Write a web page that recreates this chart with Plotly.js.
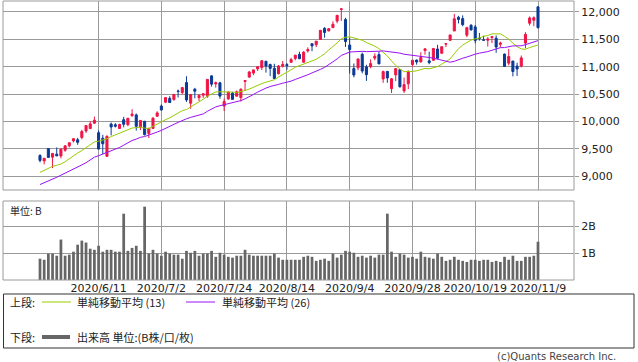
<!DOCTYPE html>
<html><head><meta charset="utf-8">
<script src="https://cdn.plot.ly/plotly-3.0.1.min.js"></script>
<style>html,body{margin:0;padding:0;background:#fff}#chart{width:638px;height:362px}</style>
</head><body><div id="chart"></div>
<script>
const dates = ["2020/5/21","2020/5/22","2020/5/26","2020/5/27","2020/5/28","2020/5/29",
"2020/6/1","2020/6/2","2020/6/3","2020/6/4","2020/6/5","2020/6/8","2020/6/9","2020/6/10","2020/6/11","2020/6/12",
"2020/6/15","2020/6/16","2020/6/17","2020/6/18","2020/6/19","2020/6/22","2020/6/23","2020/6/24","2020/6/25","2020/6/26",
"2020/6/29","2020/6/30","2020/7/1","2020/7/2","2020/7/6","2020/7/7","2020/7/8","2020/7/9","2020/7/10",
"2020/7/13","2020/7/14","2020/7/15","2020/7/16","2020/7/17","2020/7/20","2020/7/21","2020/7/22","2020/7/23","2020/7/24",
"2020/7/27","2020/7/28","2020/7/29","2020/7/30","2020/7/31","2020/8/3","2020/8/4","2020/8/5","2020/8/6","2020/8/7",
"2020/8/10","2020/8/11","2020/8/12","2020/8/13","2020/8/14","2020/8/17","2020/8/18","2020/8/19","2020/8/20","2020/8/21",
"2020/8/24","2020/8/25","2020/8/26","2020/8/27","2020/8/28","2020/8/31","2020/9/1","2020/9/2","2020/9/3","2020/9/4",
"2020/9/8","2020/9/9","2020/9/10","2020/9/11","2020/9/14","2020/9/15","2020/9/16","2020/9/17","2020/9/18",
"2020/9/21","2020/9/22","2020/9/23","2020/9/24","2020/9/25","2020/9/28","2020/9/29","2020/9/30","2020/10/1","2020/10/2",
"2020/10/5","2020/10/6","2020/10/7","2020/10/8","2020/10/9","2020/10/12","2020/10/13","2020/10/14","2020/10/15","2020/10/16",
"2020/10/19","2020/10/20","2020/10/21","2020/10/22","2020/10/23","2020/10/26","2020/10/27","2020/10/28","2020/10/29","2020/10/30",
"2020/11/2","2020/11/3","2020/11/4","2020/11/5","2020/11/6","2020/11/9"];

const openP = [9375,9276,9501,9344,9400,9366,9471,9552,9640,9663,
9704,9823,9867,9966,9792,9691,9359,9950,9937,9869,
10030,9938,10105,10118,9899,10002,9779,9871,10092,10280,
10350,10420,10400,10554,10526,10709,10331,10588,10432,10478,
10460,10832,10683,10705,10280,10410,10515,10460,10433,10730,
10809,10882,10960,10984,11099,11040,10971,10870,11010,11038,
11079,11151,11225,11081,11288,11420,11400,11498,11701,11654,
11715,11834,12047,11861,11396,10965,10978,11226,10995,11000,
11156,11221,10776,10914,10597,10849,10945,10557,10686,11038,
11121,11085,11295,11106,11116,11323,11244,11412,11482,11653,
11903,11879,11576,11758,11727,11518,11488,11483,11533,11520,
11408,11230,11064,11103,11010,11011,11431,11794,11848,12094];

const highP = [9398,9325,9502,9414,9523,9505,9560,9608,9690,9698,
9845,9925,10002,10086,9835,9753,9743,9979,9968,9955,
10082,10059,10222,10143,10020,10006,9875,10074,10185,10310,
10434,10459,10493,10580,10620,10824,10491,10612,10494,10515,
10774,10837,10728,10722,10415,10544,10539,10564,10602,10747,
10923,10945,11002,11121,11101,11053,11053,11031,11103,11066,
11162,11212,11273,11286,11352,11421,11467,11668,11723,11706,
11829,11943,12074,11894,11531,11057,11143,11258,11034,11134,
11244,11276,10927,10919,10791,10974,10951,10801,10929,11118,
11131,11264,11327,11274,11333,11399,11375,11434,11583,11965,
11930,11938,11729,11777,11762,11617,11566,11541,11549,11571,
11458,11240,11325,11103,11071,11204,11631,11920,11920,12108];

const lowP = [9250,9213,9333,9144,9362,9324,9443,9523,9612,9571,
9671,9788,9863,9952,9490,9398,9350,9743,9887,9869,
9891,9911,10082,9831,9841,9741,9695,9866,10088,10194,
10334,10339,10376,10436,10496,10355,10227,10421,10373,10429,
10430,10635,10617,10412,10188,10395,10393,10458,10361,10553,
10794,10845,10921,10939,10891,10826,10778,10859,10985,10943,
11071,11116,11137,11073,11257,11283,11357,11489,11531,11644,
11704,11794,11836,11361,10875,10805,10934,10878,10740,10970,
11116,11049,10704,10705,10519,10735,10616,10519,10589,10999,
11037,11081,11218,11044,11111,11132,11244,11358,11472,11653,
11791,11738,11540,11665,11428,11477,11480,11368,11431,11254,
11355,10996,11025,10822,10830,10985,11335,11753,11741,11697];

const closeP = [9284.88,9324.59,9340.22,9412.36,9368.99,9489.87,9552.05,9608.38,9682.91,9615.81,
9814.08,9924.75,9953.75,10020.35,9492.73,9588.81,9726.02,9895.87,9910.53,9943.05,
9946.12,10056.48,10131.37,9909.17,10017.00,9757.22,9874.15,10058.77,10154.63,10207.63,
10433.65,10343.89,10492.50,10547.75,10617.44,10390.84,10488.58,10550.49,10473.83,10503.19,
10767.09,10680.36,10706.13,10461.42,10363.18,10536.27,10402.09,10542.94,10587.81,10745.27,
10902.80,10941.17,10998.40,11108.07,11010.98,10968.36,10782.82,11012.24,11042.50,11019.30,
11129.73,11210.84,11146.46,11264.95,11311.80,11379.72,11466.47,11665.06,11625.34,11695.63,
11775.46,11939.67,12056.44,11458.10,11313.13,10847.69,11141.56,10919.59,10853.55,11056.65,
11190.32,11050.47,10910.28,10793.28,10778.80,10963.64,10632.99,10672.27,10913.56,11117.53,
11085.25,11167.51,11326.51,11075.02,11332.49,11154.60,11364.60,11420.98,11579.94,11876.26,
11863.90,11768.73,11713.87,11671.56,11478.88,11516.49,11484.69,11506.01,11548.28,11358.94,
11431.35,11004.87,11185.59,10911.59,10957.61,11160.57,11590.78,11890.93,11895.23,11713.78];

// closes before the visible window (2020/4/16 - 2020/5/20), used for the moving averages
const preCloses = [8532.36,8650.14,8560.73,8263.23,8495.38,8494.75,8634.52,8730.16,8607.73,8914.71,
8889.55,8604.95,8710.71,8809.12,8854.39,8979.66,9121.32,9192.34,9002.55,8863.17,
8943.72,9014.56,9234.83,9185.10,9375.78];

// volume, billions
const volumeB = [0.79,0.75,0.98,0.98,0.90,1.50,0.90,0.94,1.05,1.31,
1.46,1.39,1.16,1.12,1.27,1.05,1.12,1.12,1.05,1.05,
2.46,1.08,1.19,1.27,1.08,2.72,0.98,1.12,0.98,0.90,
1.05,0.98,0.94,0.94,0.79,1.08,1.01,1.08,0.90,0.98,
0.98,1.08,0.86,1.01,0.94,0.86,0.83,0.90,0.90,1.12,
0.94,0.90,0.90,0.90,0.90,0.90,0.98,0.83,0.75,0.75,
0.75,0.75,0.75,0.86,0.90,0.86,0.71,0.75,0.79,0.71,
0.98,0.83,0.94,1.08,1.05,1.01,0.86,0.90,0.83,0.90,
0.83,0.94,0.94,2.46,1.05,0.86,0.98,0.94,0.83,0.86,
0.79,1.05,0.86,0.83,0.79,0.98,0.86,0.71,0.75,0.86,
0.75,0.71,0.67,0.75,0.75,0.71,0.75,0.75,0.67,0.71,
0.67,0.86,0.75,0.90,0.71,0.71,0.86,0.86,0.90,1.42];

const tickDates = ["2020/6/11","2020/7/2","2020/7/24","2020/8/14","2020/9/4","2020/9/28","2020/10/19","2020/11/9"];
const priceTicks = [9000,9500,10000,10500,11000,11500,12000];
const volTicks = [1,2];
const volTickText = ["1B","2B"];

const allCloses = preCloses.concat(closeP);
function sma(n){
  return closeP.map((_,i)=>{const k=i+preCloses.length;let s=0;for(let j=k-n+1;j<=k;j++)s+=allCloses[j];return s/n;});
}
const ma13 = sma(13), ma26 = sma(26);

const RED='#f01446', BLUE='#0b3a96', GRID='#9a9a9a', GREEN='#99cc00', PURPLE='#9a10f8';
const FONT='DejaVu Sans', JFONT='Noto Sans CJK JP';

const traces = [
 {type:'candlestick', x:dates, open:openP, high:highP, low:lowP, close:closeP, xaxis:'x', yaxis:'y',
  increasing:{line:{color:RED,width:1},fillcolor:RED},
  decreasing:{line:{color:BLUE,width:1},fillcolor:BLUE},
  whiskerwidth:0, showlegend:false, hoverinfo:'skip'},
 {type:'scatter', mode:'lines', x:dates, y:ma13, line:{color:GREEN,width:1}, xaxis:'x', yaxis:'y', showlegend:false, hoverinfo:'skip'},
 {type:'scatter', mode:'lines', x:dates, y:ma26, line:{color:PURPLE,width:1}, xaxis:'x', yaxis:'y', showlegend:false, hoverinfo:'skip'},
 {type:'bar', x:dates, y:volumeB, marker:{color:'#666666',line:{width:0}}, xaxis:'x', yaxis:'y2', showlegend:false, hoverinfo:'skip'}
];

const L=3, R=64, T=1, B=82, W=638, H=362;
const px=x=>(x-L)/(W-L-R), py=y=>(H-B-y)/(H-T-B);

const shapes = [
 {type:'rect',xref:'x domain',yref:'y domain',x0:0,x1:1,y0:0,y1:1,line:{color:GRID,width:1}},
 {type:'rect',xref:'x domain',yref:'y2 domain',x0:0,x1:1,y0:0,y1:1,line:{color:GRID,width:1}},
 {type:'rect',xref:'paper',yref:'paper',x0:px(3.5),x1:px(634),y0:py(294),y1:py(348),line:{color:'#333',width:1}},
 {type:'line',xref:'paper',yref:'paper',x0:px(42),x1:px(71),y0:py(302),y1:py(302),line:{color:GREEN,width:1}},
 {type:'line',xref:'paper',yref:'paper',x0:px(186),x1:px(215),y0:py(302),y1:py(302),line:{color:PURPLE,width:1}},
 {type:'line',xref:'paper',yref:'paper',x0:px(42),x1:px(70),y0:py(337),y1:py(337),line:{color:'#666',width:4}}
];
const ann=(x,y,t,anchor,size)=>({xref:'paper',yref:'paper',x:px(x),y:py(y),text:t,showarrow:false,xanchor:anchor||'left',yanchor:'middle',font:{family:JFONT,size:size||11,color:'#222'}});
const annotations = [
 ann(8,302,'上段:'), ann(75,302,'単純移動平均 (13)'), ann(220,302,'単純移動平均 (26)'),
 ann(8,337,'下段:'), ann(75,337,'出来高 単位:(B株/口/枚)'),
 ann(8,210,'単位: B','left',10),
 Object.assign(ann(618,356,'(c)Quants Research Inc.','right'),{font:{family:FONT,size:10,color:'#444'}})
];

const layout = {
 width:W, height:H, margin:{l:L,r:R,t:T,b:B,pad:0}, paper_bgcolor:'#fff', plot_bgcolor:'#fff',
 showlegend:false, bargap:0.35, boxgap:0.3,
 xaxis:{type:'category', range:[-8.84,127.6], tickmode:'array', tickvals:tickDates, ticktext:tickDates,
   showgrid:true, gridcolor:GRID, gridwidth:1, zeroline:false, showline:false, ticks:'', anchor:'y2',
   tickfont:{family:FONT,size:11,color:'#222'}, rangeslider:{visible:false}, fixedrange:true},
 yaxis:{domain:[py(190),1], range:[8744,12201], side:'right', tickmode:'array', tickvals:priceTicks,
   tickformat:',d', showgrid:true, gridcolor:GRID, gridwidth:1, zeroline:false, showline:false,
   ticks:'outside', ticklen:4, tickcolor:GRID, tickfont:{family:FONT,size:11,color:'#222'}, anchor:'x', fixedrange:true},
 yaxis2:{domain:[0,py(201)], range:[0,2.93], side:'right', tickmode:'array', tickvals:volTicks, ticktext:volTickText,
   showgrid:true, gridcolor:GRID, gridwidth:1, zeroline:false, showline:false,
   ticks:'outside', ticklen:4, tickcolor:GRID, tickfont:{family:FONT,size:11,color:'#222'}, anchor:'x', fixedrange:true},
 shapes:shapes, annotations:annotations
};

Plotly.newPlot('chart', traces, layout, {displayModeBar:false, staticPlot:true});
</script></body></html>
